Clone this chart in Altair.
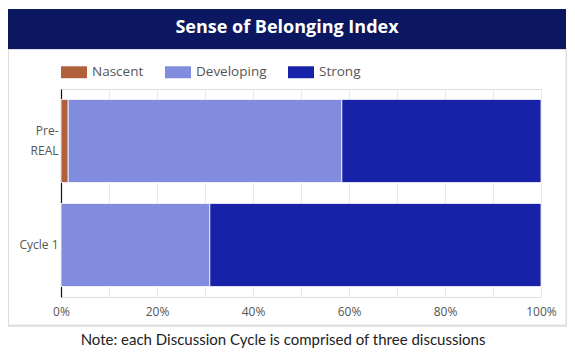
import altair as alt
import pandas as pd

# ---- data ----
categories = ["Pre-REAL", "Cycle 1"]
levels = ["Nascent", "Developing", "Strong"]
nascent = [1.5, 0.0]
developing = [57.0, 31.0]
strong = [41.5, 69.0]
level_colors = ["#B0603C", "#828CDF", "#1722A8"]
x_ticks = [0, 0.1, 0.2, 0.3, 0.4, 0.5, 0.6, 0.7, 0.8, 0.9, 1.0]

title_text = "Sense of Belonging Index"
note_text = "Note: each Discussion Cycle is comprised of three discussions"

rows = []
for i, c in enumerate(categories):
    for j, (lvl, vals) in enumerate(zip(levels, [nascent, developing, strong])):
        rows.append({"cat": c, "level": lvl, "value": vals[i], "ord": j})
df = pd.DataFrame(rows)
one = pd.DataFrame({"k": [0]})

W, H = 480, 208

bars = alt.Chart(df).mark_bar(stroke="white", strokeWidth=0.8).encode(
    y=alt.Y("cat:N", sort=categories, title=None,
            scale=alt.Scale(paddingInner=0.2, paddingOuter=0.1),
            axis=alt.Axis(domain=True, domainColor="#111111", domainWidth=1.2,
                          ticks=False, grid=False, labelFontSize=12,
                          labelColor="#555555", labelFont="Open Sans",
                          labelPadding=3, labelLineHeight=20,
                          labelOffset={"condition": {"test": "datum.value == 'Pre-REAL'", "value": -10}, "value": 0},
                          labelExpr="datum.label == 'Pre-REAL' ? ['Pre-', 'REAL'] : datum.label")),
    x=alt.X("value:Q", stack="normalize", title=None,
            scale=alt.Scale(domain=[0, 1], nice=False),
            axis=alt.Axis(values=x_ticks, domain=False, ticks=False, grid=True,
                          gridColor="#e8e8e8", labelFontSize=12, labelColor="#555555",
                          labelFont="Open Sans", labelPadding=9, labelFlush=False,
                          labelExpr="round(datum.value*10) % 2 == 0 ? format(datum.value, '.0%') : ''")),
    color=alt.Color("level:N", sort=levels,
                    scale=alt.Scale(domain=levels, range=level_colors),
                    legend=alt.Legend(title=None, orient="none", direction="horizontal",
                                      legendX=0, legendY=-30,
                                      symbolType="M-1,-0.46L1,-0.46L1,0.46L-1,0.46Z",
                                      symbolSize=676, symbolStrokeWidth=0,
                                      labelFontSize=13.5, labelColor="#555555",
                                      labelFont="Open Sans", labelOffset=5,
                                      columnPadding=21)),
    order=alt.Order("ord:Q"),
)

shadow = alt.Chart(one).mark_rect(filled=False, stroke="#e3e3e3", strokeWidth=2).encode(
    x=alt.value(-53), x2=alt.value(506), y=alt.value(-40), y2=alt.value(237))
card = alt.Chart(one).mark_rect(filled=False, stroke="#dcdcdc", strokeWidth=1).encode(
    x=alt.value(-53), x2=alt.value(505), y=alt.value(-40), y2=alt.value(236))
banner = alt.Chart(one).mark_rect(color="#0B1760").encode(
    x=alt.value(-53), x2=alt.value(505), y=alt.value(-80), y2=alt.value(-40))
title = alt.Chart(one).mark_text(color="white", font="Open Sans", fontWeight="bold",
                                 fontSize=18, align="center", baseline="middle").encode(
    x=alt.value(226), y=alt.value(-61), text=alt.value(title_text))
note = alt.Chart(one).mark_text(color="#222222", font="Lato", fontSize=15,
                                align="center", baseline="middle").encode(
    x=alt.value(222), y=alt.value(251), text=alt.value(note_text))

chart = alt.layer(shadow, card, banner, title, bars, note).properties(
    width=W, height=H,
    autosize=alt.AutoSizeParams(type="none"),
    padding={"left": 53, "top": 81, "right": 26, "bottom": 52},
).configure_view(stroke=None).configure(background="white")

chart.save("out.html", embed_options={"renderer": "svg", "actions": False})
